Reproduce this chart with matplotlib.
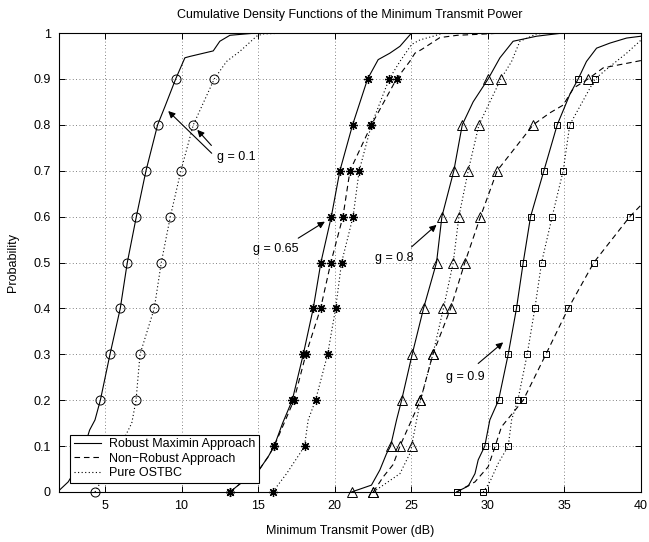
import matplotlib
matplotlib.use("Agg")
import matplotlib.pyplot as plt

plt.rcParams['font.family'] = ['Liberation Sans', 'DejaVu Sans']
plt.rcParams['font.size'] = 9

# ---------------- data ----------------
levels = [0.0, 0.1, 0.2, 0.3, 0.4, 0.5, 0.6, 0.7, 0.8, 0.9]

xticks = [5, 10, 15, 20, 25, 30, 35, 40]
yticks = [0, 0.1, 0.2, 0.3, 0.4, 0.5, 0.6, 0.7, 0.8, 0.9, 1.0]
ytick_labels = ["0", "0.1", "0.2", "0.3", "0.4", "0.5", "0.6", "0.7", "0.8", "0.9", "1"]

# g = 0.1
g01_rob_x = [1.9, 2.6, 3.3, 4.0, 4.35, 4.70, 5.33, 6.00, 6.46, 7.05, 7.68, 8.44, 8.92, 9.62, 10.22, 10.55, 12.07, 12.50, 13.16, 14.90]
g01_rob_y = [0.0, 0.022, 0.06, 0.135, 0.157, 0.2, 0.3, 0.4, 0.5, 0.6, 0.7, 0.8, 0.84, 0.9, 0.946, 0.949, 0.961, 0.982, 0.995, 1.0]
g01_rob_mx = [3.9, 4.70, 5.33, 6.00, 6.46, 7.05, 7.68, 8.44, 9.62]          # levels 0.1..0.9
g01_pure_x = [4.35, 5.2, 6.0, 6.75, 7.03, 7.29, 8.22, 8.68, 9.27, 9.96, 10.77, 12.14, 12.94, 13.81, 14.90, 15.30, 17.0]
g01_pure_y = [0.0, 0.05, 0.1, 0.15, 0.2, 0.3, 0.4, 0.5, 0.6, 0.7, 0.8, 0.9, 0.938, 0.96, 0.993, 0.998, 1.0]
g01_pure_mx = [4.35, 6.0, 7.03, 7.29, 8.22, 8.68, 9.27, 9.96, 10.77, 12.14]

# g = 0.65
g065_rob_x = [13.16, 13.9, 15.0, 15.66, 16.05, 16.6, 17.23, 17.95, 18.60, 19.10, 19.78, 20.34, 21.17, 22.15, 22.84, 23.60, 24.26, 25.02]
g065_rob_y = [0.0, 0.02, 0.045, 0.077, 0.1, 0.15, 0.2, 0.3, 0.4, 0.5, 0.6, 0.7, 0.8, 0.9, 0.942, 0.956, 0.971, 1.0]
g065_rob_mx = [13.16, 16.05, 17.23, 17.95, 18.60, 19.10, 19.78, 20.34, 21.17, 22.15]
g065_non_x = [13.16, 13.9, 15.0, 15.66, 16.05, 16.7, 17.34, 18.12, 19.08, 19.75, 20.54, 21.00, 22.40, 24.04, 24.90, 25.24, 25.67, 26.87, 28.0, 29.3, 31.0]
g065_non_y = [0.0, 0.02, 0.045, 0.077, 0.1, 0.15, 0.2, 0.3, 0.4, 0.5, 0.6, 0.7, 0.8, 0.9, 0.938, 0.956, 0.964, 0.99, 0.995, 0.997, 1.0]
g065_non_mx = [13.16, 16.05, 17.34, 18.12, 19.08, 19.75, 20.54, 21.00, 22.40, 24.04]
g065_pure_x = [15.95, 16.86, 17.73, 18.03, 18.27, 18.75, 19.54, 20.06, 20.45, 21.20, 21.60, 22.40, 23.56, 24.26, 25.02, 25.57, 26.43, 27.08]
g065_pure_y = [0.0, 0.04, 0.084, 0.1, 0.157, 0.2, 0.3, 0.4, 0.5, 0.6, 0.7, 0.8, 0.9, 0.938, 0.975, 0.985, 0.993, 1.0]
g065_pure_mx = [15.95, 18.03, 18.75, 19.54, 20.06, 20.45, 21.20, 21.60, 22.40, 23.56]

# g = 0.8
g08_rob_x = [21.10, 22.40, 22.95, 23.39, 23.65, 24.04, 24.37, 25.06, 25.80, 26.65, 27.00, 27.78, 28.33, 29.04, 30.02, 30.79, 31.65, 33.18, 34.92]
g08_rob_y = [0.0, 0.015, 0.048, 0.084, 0.1, 0.157, 0.2, 0.3, 0.4, 0.5, 0.6, 0.7, 0.8, 0.85, 0.9, 0.946, 0.982, 0.993, 1.0]
g08_rob_mx = [21.10, 23.65, 24.37, 25.06, 25.80, 26.65, 27.00, 27.78, 28.33, 30.02]
g08_non_x = [22.52, 23.17, 23.82, 24.26, 25.60, 26.41, 27.57, 28.50, 29.52, 30.61, 32.96, 34.05, 34.92, 35.60, 36.55, 37.53, 39.70, 40.0]
g08_non_y = [0.0, 0.033, 0.06, 0.1, 0.2, 0.3, 0.4, 0.5, 0.6, 0.7, 0.8, 0.826, 0.843, 0.88, 0.9, 0.924, 0.938, 0.94]
g08_non_mx = [22.52, 24.26, 25.60, 26.41, 27.57, 28.50, 29.52, 30.61, 32.96, 36.55]
g08_pure_x = [22.52, 24.26, 24.91, 25.02, 25.60, 26.41, 27.10, 27.74, 28.11, 28.72, 29.42, 30.85, 31.55, 32.09, 33.18, 34.0]
g08_pure_y = [0.0, 0.04, 0.084, 0.1, 0.2, 0.3, 0.4, 0.5, 0.6, 0.7, 0.8, 0.9, 0.938, 0.982, 0.998, 1.0]
g08_pure_mx = [22.52, 25.02, 25.60, 26.41, 27.10, 27.74, 28.11, 28.72, 29.42, 30.85]

# g = 0.9
g09_rob_x = [27.96, 28.72, 29.16, 29.37, 29.80, 30.13, 30.70, 31.33, 31.87, 32.31, 32.79, 33.66, 34.53, 35.03, 35.35, 35.90, 36.44, 37.10, 37.97, 39.06, 40.0]
g09_rob_y = [0.0, 0.013, 0.04, 0.07, 0.1, 0.157, 0.2, 0.3, 0.4, 0.5, 0.6, 0.7, 0.8, 0.84, 0.866, 0.9, 0.938, 0.967, 0.978, 0.989, 0.993]
g09_rob_mx = [27.96, 29.80, 30.70, 31.33, 31.87, 32.31, 32.79, 33.66, 34.53, 35.90]
g09_non_x = [27.96, 29.16, 30.02, 30.48, 30.89, 31.70, 32.31, 33.79, 35.25, 36.92, 39.27, 40.0]
g09_non_y = [0.0, 0.022, 0.055, 0.1, 0.142, 0.175, 0.2, 0.3, 0.4, 0.5, 0.6, 0.625]
g09_non_mx = [27.96, 30.48, 32.31, 33.79, 35.25, 36.92, 39.27]            # levels 0..0.6
g09_pure_x = [29.70, 30.13, 30.67, 31.33, 31.55, 31.96, 32.57, 33.07, 33.51, 34.20, 34.92, 35.35, 37.00, 37.97, 39.06, 39.92, 40.0]
g09_pure_y = [0.0, 0.022, 0.062, 0.1, 0.157, 0.2, 0.3, 0.4, 0.5, 0.6, 0.7, 0.8, 0.9, 0.927, 0.956, 0.982, 0.985]
g09_pure_mx = [29.70, 31.33, 31.96, 32.57, 33.07, 33.51, 34.20, 34.92, 35.35, 37.00]

legend_labels = ["Robust Maximin Approach", "Non\u2212Robust Approach", "Pure OSTBC"]

# ---------------- plot ----------------
fig = plt.figure(figsize=(6.49, 5.42), dpi=100)
ax = fig.add_axes([59/649, 50/542, 582/649, 459/542])

LW = 0.8
solid = dict(color='k', lw=LW, linestyle='-')
dashed = dict(color='k', lw=LW, linestyle=(0, (5, 3.5)))
dotted = dict(color='k', lw=LW, linestyle=(0, (1, 2.2)))

h_rob, = ax.plot(g01_rob_x, g01_rob_y, **solid)
h_pure, = ax.plot(g01_pure_x, g01_pure_y, **dotted)
ax.plot(g065_rob_x, g065_rob_y, **solid)
h_non, = ax.plot(g065_non_x, g065_non_y, **dashed)
ax.plot(g065_pure_x, g065_pure_y, **dotted)
ax.plot(g08_rob_x, g08_rob_y, **solid)
ax.plot(g08_non_x, g08_non_y, **dashed)
ax.plot(g08_pure_x, g08_pure_y, **dotted)
ax.plot(g09_rob_x, g09_rob_y, **solid)
ax.plot(g09_non_x, g09_non_y, **dashed)
ax.plot(g09_pure_x, g09_pure_y, **dotted)

mk = dict(linestyle='none', mfc='none', mec='k', mew=0.7, clip_on=False, zorder=3)
ax.plot(g01_rob_mx, levels[1:], marker='o', ms=6.5, **mk)
ax.plot(g01_pure_mx, levels, marker='o', ms=6.5, **mk)
asterisk = (8, 2, 0)
for xs in (g065_rob_mx, g065_non_mx, g065_pure_mx):
    ax.plot(xs, levels[:len(xs)], marker=asterisk, ms=6.5, linestyle='none',
            color='k', mec='k', mew=0.9, clip_on=False, zorder=3)
for xs in (g08_rob_mx, g08_non_mx, g08_pure_mx):
    ax.plot(xs, levels[:len(xs)], marker='^', ms=6.5, **mk)
for xs in (g09_rob_mx, g09_non_mx, g09_pure_mx):
    ax.plot(xs, levels[:len(xs)], marker='s', ms=5, **mk)

ax.set_xlim(2, 40)
ax.set_ylim(0, 1)
ax.set_xticks(xticks)
ax.set_xticklabels([str(t) for t in xticks])
ax.set_yticks(yticks)
ax.set_yticklabels(ytick_labels)
ax.tick_params(direction='in', top=True, right=True, length=4, width=0.7, pad=6, labelsize=9)
ax.grid(True, color='0.35', linestyle=(0, (1, 3)), linewidth=0.6)
for s in ax.spines.values():
    s.set_linewidth(0.8)

ax.set_title("Cumulative Density Functions of the Minimum Transmit Power", fontsize=9, pad=11)
ax.set_xlabel("Minimum Transmit Power (dB)", fontsize=9, labelpad=9)
ax.set_ylabel("Probability", fontsize=9, labelpad=10)

arrow = dict(arrowstyle='-|>', color='k', lw=0.8, mutation_scale=10, shrinkA=0, shrinkB=0)
ax.text(12.29, 0.73, "g = 0.1", fontsize=9, ha='left', va='center')
ax.annotate("", xy=(9.13, 0.83), xytext=(11.97, 0.738), arrowprops=arrow)
ax.annotate("", xy=(11.03, 0.789), xytext=(11.95, 0.755), arrowprops=arrow)
ax.text(14.67, 0.53, "g = 0.65", fontsize=9, ha='left', va='center')
ax.annotate("", xy=(19.36, 0.589), xytext=(17.62, 0.553), arrowprops=arrow)
ax.text(22.63, 0.509, "g = 0.8", fontsize=9, ha='left', va='center')
ax.annotate("", xy=(26.65, 0.582), xytext=(25.02, 0.534), arrowprops=arrow)
ax.text(27.3, 0.251, "g = 0.9", fontsize=9, ha='left', va='center')
ax.annotate("", xy=(31.0, 0.326), xytext=(29.37, 0.28), arrowprops=arrow)

leg = ax.legend([h_rob, h_non, h_pure], legend_labels, loc='lower left',
                bbox_to_anchor=(0.019, 0.0196), borderaxespad=0, fontsize=9,
                fancybox=False, framealpha=1, edgecolor='k', labelspacing=0.2,
                borderpad=0.3, handlelength=2.2, handletextpad=0.6)
leg.get_frame().set_linewidth(0.8)
leg.set_zorder(10)

fig.savefig("out.png", dpi=100)
